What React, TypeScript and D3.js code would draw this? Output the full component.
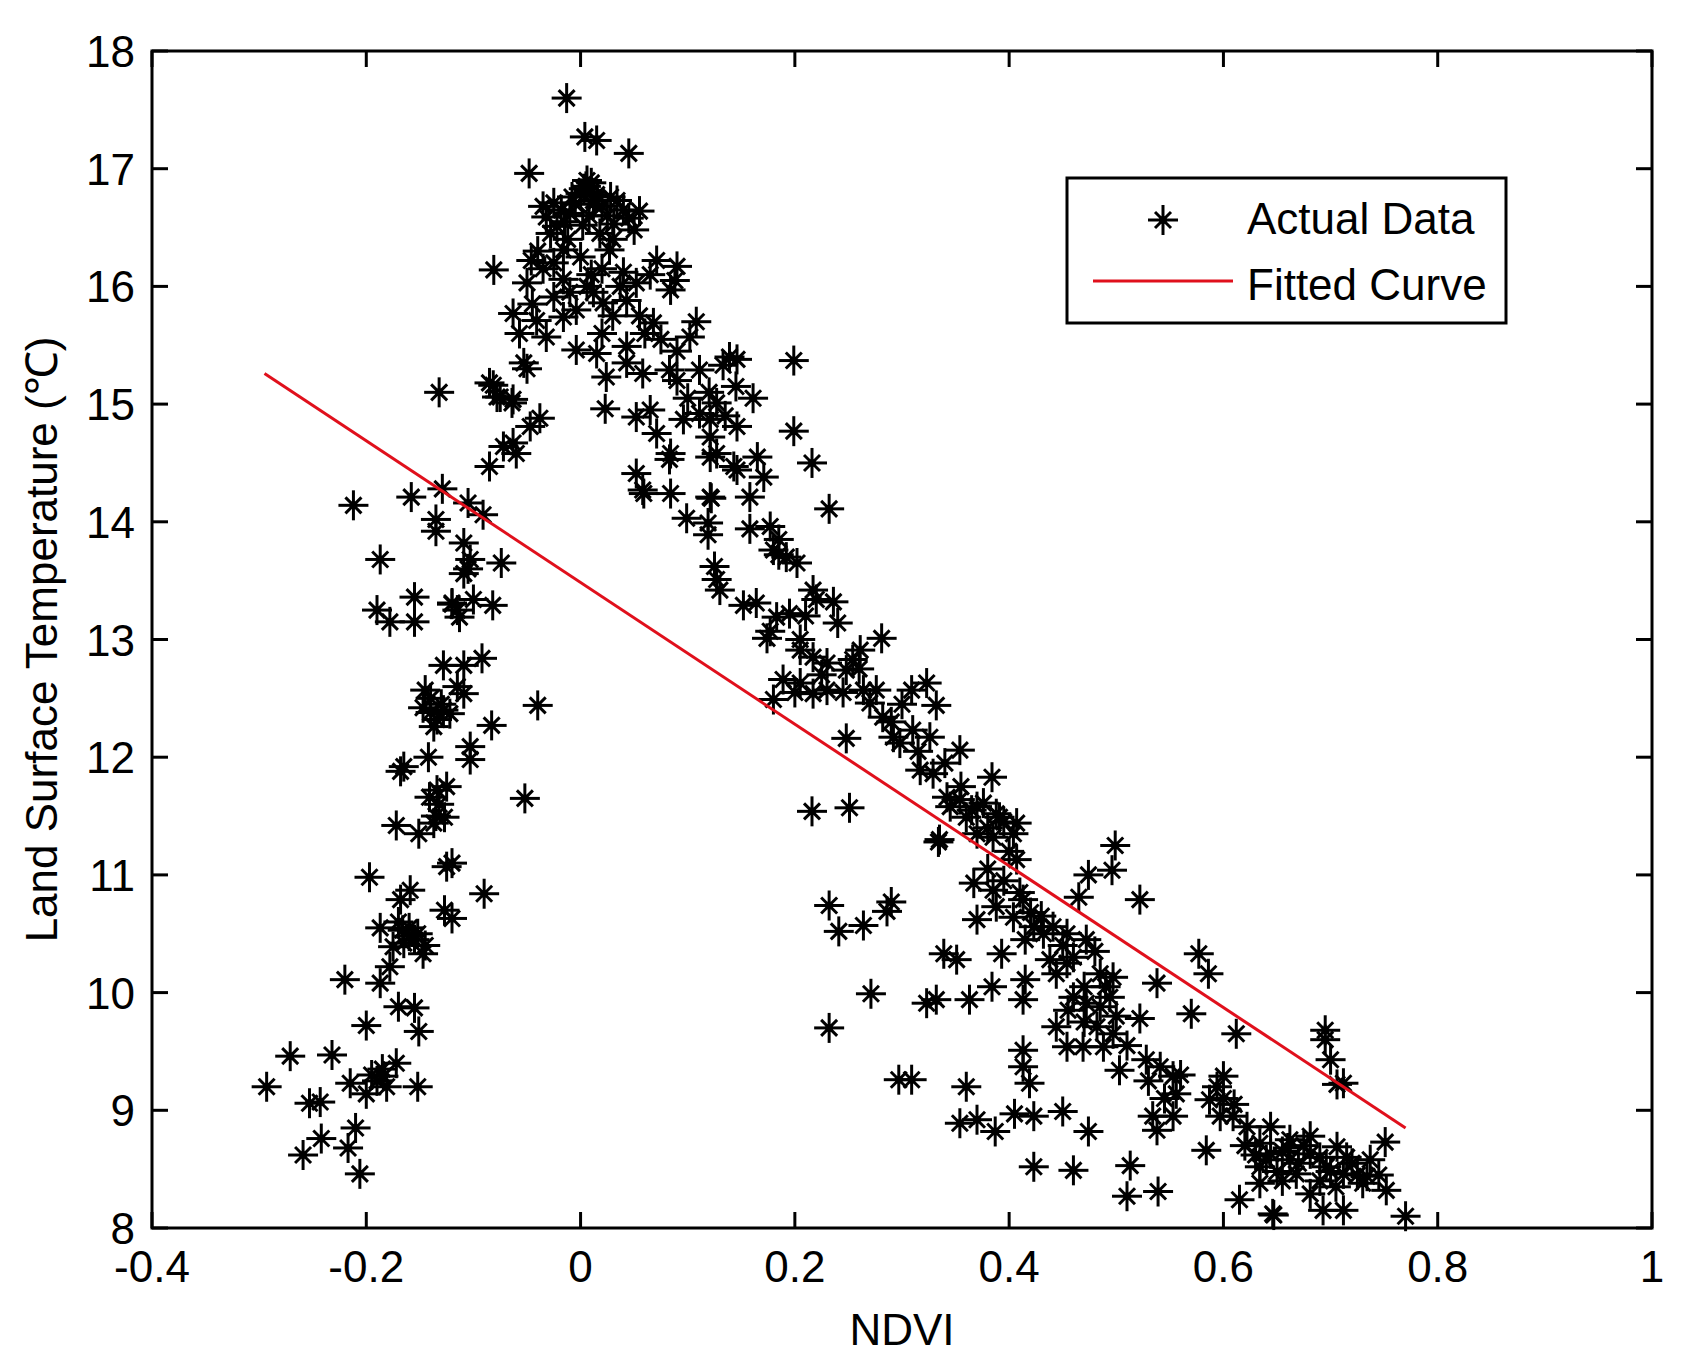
import React from "react";
import * as d3 from "d3";

// ---- data (NDVI, LST °C) ----
const leftBranch: [number, number][] = [
  [-0.132,15.10],[-0.0815,15.16],[-0.078,15.06],[-0.064,15.01],[-0.085,14.47],[-0.072,14.64],[-0.063,14.67],[-0.060,14.58],[-0.047,14.81],[-0.038,14.88],
  [-0.212,14.14],[-0.158,14.21],[-0.129,14.28],[-0.105,14.16],[-0.091,14.06],[-0.135,14.02],[-0.135,13.92],[-0.109,13.82],[-0.103,13.68],[-0.109,13.56],
  [-0.074,13.65],[-0.187,13.68],[-0.155,13.36],[-0.190,13.25],[-0.178,13.15],[-0.155,13.15],[-0.120,13.31],[-0.100,13.34],[-0.082,13.29],[-0.113,13.19],[-0.115,13.25],
  [-0.128,12.78],[-0.109,12.78],[-0.092,12.84],[-0.145,12.57],[-0.109,12.54],[-0.147,12.42],[-0.134,12.32],[-0.122,12.37],[-0.137,12.26],[-0.140,12.38],
  [-0.040,12.44],[-0.083,12.27],[-0.103,12.09],[-0.103,11.98],[-0.165,11.92],[-0.142,12.00],[-0.168,11.88],[-0.134,11.72],[-0.125,11.75],[-0.052,11.65],
  [-0.141,11.66],[-0.127,11.49],[-0.172,11.42],[-0.151,11.35],[-0.137,11.44],[-0.197,10.98],[-0.125,11.07],[-0.120,11.10],[-0.159,10.87],[-0.168,10.79],
  [-0.090,10.84],[-0.127,10.70],[-0.120,10.63],[-0.187,10.55],[-0.166,10.53],[-0.152,10.50],[-0.147,10.33],[-0.175,10.39],[-0.165,10.42],[-0.160,10.48],
  [-0.178,10.22],[-0.187,10.08],[-0.220,10.11],[-0.170,9.88],[-0.155,9.87],[-0.151,9.67],[-0.200,9.72],[-0.271,9.46],[-0.232,9.47],[-0.293,9.20],
  [-0.215,9.23],[-0.200,9.14],[-0.184,9.29],[-0.172,9.40],[-0.181,9.20],[-0.190,9.25],[-0.152,9.20],[-0.253,9.06],[-0.243,9.07],[-0.242,8.76],
  [-0.259,8.62],[-0.210,8.85],[-0.217,8.68],[-0.206,8.46],
  [-0.155,10.45],[-0.170,10.60],[-0.145,10.40],[-0.135,11.50],[-0.130,12.45],[-0.140,12.50],[-0.115,12.60],[-0.120,13.30],[-0.105,13.60],[-0.195,9.30],
  [-0.185,9.35],[-0.132,11.60],[-0.160,10.55],[-0.128,12.40],
];

const peak: [number, number][] = [
  [-0.013,17.60],[0.004,17.27],[0.015,17.24],[0.045,17.13],[-0.048,16.96],
  [0.006,16.90],[0.000,16.79],[0.012,16.73],[-0.025,16.71],[-0.032,16.59],[-0.010,16.62],[0.034,16.73],[0.040,16.65],[0.055,16.64],[0.031,16.53],
  [-0.022,16.51],[0.005,16.85],[0.010,16.80],[-0.005,16.70],[0.020,16.68],[-0.015,16.55],[0.008,16.60],[0.025,16.60],[-0.028,16.45],
  [0.071,16.22],[0.090,16.17],[0.084,15.97],[0.088,16.05],[-0.081,16.14],[-0.046,16.22],[-0.050,16.03],[-0.035,16.15],[-0.016,16.31],[0.000,16.25],
  [0.027,16.31],[0.020,16.15],[-0.016,16.06],[0.006,16.00],[0.037,16.00],[0.052,16.03],[-0.025,15.91],[-0.004,15.80],[0.021,15.86],[0.043,15.88],
  [0.012,15.95],[-0.063,15.77],[-0.057,15.60],[-0.041,15.71],[-0.032,15.57],[-0.016,15.74],[0.108,15.70],[0.102,15.57],[-0.053,15.35],[-0.050,15.30],
  [-0.004,15.46],[0.015,15.43],[0.043,15.49],[0.043,15.35],[0.068,15.69],[0.060,15.60],[0.139,15.40],[0.146,15.38],[0.133,15.33],[0.199,15.37],
  [-0.085,15.18],[-0.075,15.06],[-0.063,15.04],[0.024,15.23],[0.058,15.26],[0.083,15.29],[0.111,15.29],[0.090,15.20],[0.161,15.05],[0.127,15.01],
  [0.111,14.92],[0.121,14.87],[0.135,14.90],[0.096,14.87],[0.146,14.81],[0.023,14.96],[0.052,14.89],[0.065,14.95],[0.199,14.77],[0.071,14.75],
  [0.084,14.58],[0.121,14.72],[0.127,14.58],[0.146,14.44],[0.171,14.38],[0.216,14.50],[0.052,14.41],[0.058,14.27],[0.084,14.24],[0.121,14.21],
  [0.158,14.21],[0.232,14.11],
  [0.010,16.88],[0.015,16.78],[-0.008,16.76],[0.028,16.76],[-0.018,16.65],[0.045,16.58],[0.002,16.52],[-0.035,16.68],[0.018,16.45],[0.050,16.48],
  [-0.012,16.40],[0.030,16.40],[-0.040,16.30],[0.065,16.10],[0.040,16.12],[-0.025,16.20],[0.010,16.10],[-0.010,15.95],[0.030,15.75],[0.055,15.75],
  [-0.045,15.85],[0.075,15.55],[0.090,15.45],[0.020,15.60],[0.120,15.10],[0.100,15.05],[0.145,15.15],[0.003,16.83],[0.012,16.70],
];

const descent: [number, number][] = [
  [0.083,14.53],[0.121,14.55],[0.143,14.47],[0.059,14.24],[0.122,14.20],[0.099,14.03],[0.119,13.99],[0.119,13.89],[0.158,13.94],[0.177,13.96],
  [0.180,13.76],[0.192,13.70],[0.202,13.65],[0.185,13.72],[0.125,13.62],[0.127,13.51],[0.130,13.42],[0.152,13.29],[0.164,13.31],[0.217,13.42],
  [0.220,13.34],[0.236,13.32],[0.195,13.22],[0.183,13.19],[0.210,13.20],[0.240,13.14],[0.177,13.07],[0.174,13.01],[0.281,13.01],[0.205,12.91],
  [0.217,12.85],[0.230,12.80],[0.261,12.91],[0.254,12.83],[0.248,12.74],[0.189,12.66],[0.205,12.63],[0.217,12.54],[0.230,12.57],[0.180,12.49],
  [0.200,12.55],[0.264,12.57],[0.276,12.57],[0.270,12.46],[0.282,12.34],[0.309,12.57],[0.323,12.63],[0.332,12.44],[0.248,12.16],[0.292,12.17],
  [0.298,12.12],[0.310,12.23],[0.326,12.17],[0.354,12.06],[0.317,11.89],[0.329,11.86],[0.384,11.83],[0.342,11.66],[0.354,11.64],[0.376,11.61],
  [0.391,11.49],[0.407,11.44],[0.360,11.49],[0.380,11.40],[0.216,11.54],[0.251,11.57],[0.334,11.28],
  [0.345,11.58],[0.370,11.58],[0.388,11.52],[0.404,11.35],[0.385,11.32],[0.335,11.30],[0.499,11.25],[0.496,11.04],[0.474,11.00],[0.465,10.81],
  [0.522,10.79],[0.407,11.13],[0.367,10.93],[0.385,10.87],[0.413,10.79],[0.388,10.73],[0.370,10.62],[0.404,10.64],[0.423,10.56],[0.432,10.50],
  [0.441,10.56],[0.454,10.50],[0.472,10.45],[0.420,10.68],[0.339,10.33],[0.351,10.28],[0.393,10.33],[0.438,10.28],[0.454,10.25],[0.444,10.16],
  [0.485,10.16],[0.497,10.13],[0.538,10.08],[0.577,10.33],[0.586,10.16],[0.415,10.11],[0.413,9.94],[0.384,10.05],[0.363,9.94],[0.332,9.94],
  [0.323,9.91],[0.460,9.96],[0.472,9.91],[0.485,9.88],[0.494,9.96],[0.444,9.71],[0.482,9.71],[0.497,9.65],[0.522,9.78],[0.454,9.54],
  [0.469,9.54],[0.488,9.54],[0.570,9.82],[0.612,9.65],[0.413,9.51],[0.413,9.37],[0.419,9.23],
  [0.232,10.74],[0.241,10.52],[0.264,10.57],[0.290,10.77],[0.286,10.69],[0.271,9.99],[0.232,9.70],[0.297,9.26],[0.309,9.26],
  [0.165,14.55],[0.185,13.85],[0.205,13.00],[0.225,12.70],[0.245,12.55],[0.260,12.75],[0.290,12.30],[0.300,12.45],[0.315,12.05],[0.340,11.95],
  [0.355,11.75],[0.365,11.55],[0.395,11.45],[0.370,11.35],[0.400,11.20],[0.380,11.05],[0.395,10.95],[0.410,10.85],[0.430,10.65],[0.415,10.45],
  [0.450,10.40],[0.460,10.30],[0.480,10.35],[0.470,10.05],[0.490,10.05],[0.455,9.85],[0.470,9.75],[0.500,9.80],[0.510,9.55],
];

const lowerRight: [number, number][] = [
  [0.503,9.34],[0.528,9.43],[0.541,9.37],[0.553,9.29],[0.556,9.14],[0.534,8.95],[0.553,8.95],[0.538,8.83],[0.360,9.20],[0.354,8.89],
  [0.370,8.92],[0.387,8.82],[0.405,8.97],[0.423,8.95],[0.450,8.99],[0.474,8.82],[0.423,8.52],[0.460,8.49],[0.513,8.53],[0.510,8.27],
  [0.539,8.31],[0.600,9.29],[0.594,9.20],[0.587,9.09],[0.597,8.95],[0.609,8.95],[0.622,8.86],[0.584,8.66],[0.634,8.72],[0.640,8.58],
  [0.634,8.38],[0.615,8.24],[0.646,8.12],
  [0.695,9.68],[0.695,9.60],[0.700,9.43],[0.706,9.22],[0.712,9.23],[0.751,8.73],[0.644,8.86],[0.662,8.75],[0.681,8.78],[0.644,8.63],
  [0.662,8.58],[0.681,8.63],[0.706,8.69],[0.634,8.52],[0.650,8.48],[0.712,8.46],[0.737,8.58],[0.734,8.44],[0.696,8.52],[0.681,8.29],
  [0.668,8.46],[0.752,8.32],[0.647,8.11],[0.693,8.15],[0.712,8.15],[0.770,8.10],[0.690,8.40],[0.720,8.55],[0.655,8.65],[0.675,8.70],
  [0.530,9.25],[0.545,9.10],[0.560,9.30],[0.600,9.10],[0.610,9.05],[0.620,8.70],[0.630,8.62],[0.660,8.68],[0.670,8.55],[0.690,8.60],
  [0.700,8.48],[0.715,8.60],[0.725,8.45],[0.705,8.35],[0.730,8.38],[0.745,8.45],[0.655,8.40],
];

const fitNdvi = [-0.295, 0.77];
const fitLst = [15.26, 8.85];

const xTicks = [-0.4, -0.2, 0, 0.2, 0.4, 0.6, 0.8, 1];
const yTicks = [8, 9, 10, 11, 12, 13, 14, 15, 16, 17, 18];
const xLabels = ["-0.4", "-0.2", "0", "0.2", "0.4", "0.6", "0.8", "1"];

const W = 1694, H = 1367;
const L = 152, R = 1652, T = 51, B = 1228;
const FONT = "'Liberation Sans', Arial, Helvetica, sans-serif";
const RED = "#e0101c";

function Star({ cx, cy }: { cx: number; cy: number }) {
  const a = 15, d = 8;
  return (
    <g stroke="#000" strokeWidth={3}>
      <line x1={cx - a} y1={cy} x2={cx + a} y2={cy} />
      <line x1={cx} y1={cy - a} x2={cx} y2={cy + a} />
      <line x1={cx - d} y1={cy - d} x2={cx + d} y2={cy + d} />
      <line x1={cx - d} y1={cy + d} x2={cx + d} y2={cy - d} />
      <circle cx={cx} cy={cy} r={4} fill="#000" stroke="none" />
    </g>
  );
}

export default function App() {
  const x = d3.scaleLinear().domain([-0.4, 1]).range([L, R]);
  const y = d3.scaleLinear().domain([8, 18]).range([B, T]);
  const all = [...leftBranch, ...peak, ...descent, ...lowerRight];
  const line = d3.line<number>().x((_, i) => x(fitNdvi[i])).y((_, i) => y(fitLst[i]));
  const tick = 16;
  return (
    <svg width={W} height={H} style={{ position: "absolute", left: 0, top: 0, display: "block", background: "#fff" }}
      fontFamily={FONT}>
      <rect x={0} y={0} width={W} height={H} fill="#fff" />
      {all.map((p, i) => <Star key={i} cx={x(p[0])} cy={y(p[1])} />)}
      <path d={line(fitNdvi) || ""} stroke={RED} strokeWidth={3} fill="none" />
      <g stroke="#000" strokeWidth={3}>
        {xTicks.map((t, i) => (
          <g key={"xt" + i}>
            <line x1={x(t)} x2={x(t)} y1={B} y2={B - tick} />
            <line x1={x(t)} x2={x(t)} y1={T} y2={T + tick} />
          </g>
        ))}
        {yTicks.map((t, i) => (
          <g key={"yt" + i}>
            <line x1={L} x2={L + tick} y1={y(t)} y2={y(t)} />
            <line x1={R} x2={R - tick} y1={y(t)} y2={y(t)} />
          </g>
        ))}
      </g>
      <rect x={L} y={T} width={R - L} height={B - T} fill="none" stroke="#000" strokeWidth={3} />
      {xTicks.map((t, i) => (
        <text key={"xl" + i} x={x(t)} y={1282} fontSize={44} textAnchor="middle" fill="#000">{xLabels[i]}</text>
      ))}
      {yTicks.map((t, i) => (
        <text key={"yl" + i} x={135} y={y(t) + 16} fontSize={44} textAnchor="end" fill="#000">{t}</text>
      ))}
      <text x={(L + R) / 2} y={1345} fontSize={44} textAnchor="middle" fill="#000">NDVI</text>
      <text transform={`translate(57, ${(T + B) / 2}) rotate(-90)`} fontSize={44} textAnchor="middle" fill="#000">
        Land Surface Temperature (℃)
      </text>
      <rect x={1067} y={178} width={439} height={145} fill="#fff" stroke="#000" strokeWidth={3} />
      <Star cx={1163} cy={220} />
      <line x1={1093} x2={1233} y1={281} y2={281} stroke={RED} strokeWidth={3} />
      <text x={1247} y={234} fontSize={44} fill="#000">Actual Data</text>
      <text x={1247} y={300} fontSize={44} fill="#000">Fitted Curve</text>
    </svg>
  );
}
